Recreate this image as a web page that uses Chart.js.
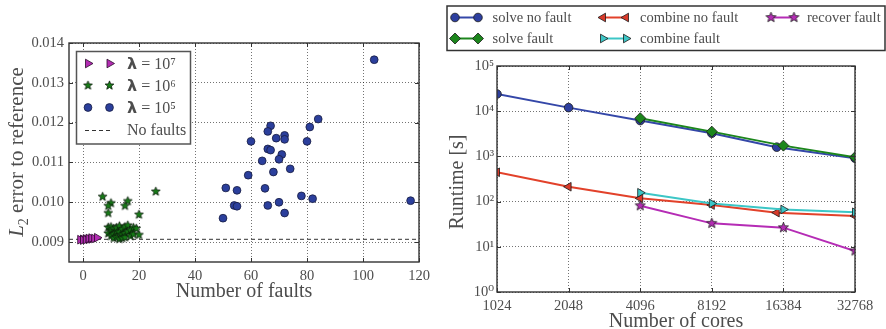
<!DOCTYPE html>
<html>
<head>
<meta charset="utf-8">
<script src="https://cdn.jsdelivr.net/npm/chart.js@4.4.1/dist/chart.umd.min.js"></script>
<style>
  html, body { margin: 0; padding: 0; background: #fff; }
  #wrap { position: relative; width: 886px; height: 329px; overflow: hidden; }
  #c1 { position: absolute; left: 0; top: 0; }
  #c2 { position: absolute; left: 440px; top: 0; }
</style>
</head>
<body>
<div id="wrap">
  <canvas id="c1" width="440" height="329"></canvas>
  <canvas id="c2" width="446" height="329"></canvas>
</div>
<script>
// ---- Left panel: L2 error against number of faults ----
const faultsL7 = [-1, 0, 0, 1, 1, 2, 2, 3, 3, 4, 5];
const errL7 = [0.00906, 0.00907, 0.00905, 0.00908, 0.00906, 0.00907, 0.00909, 0.00908, 0.00910, 0.00909, 0.00911];

const faultsL6 = [7, 10, 9, 9, 16, 15, 20, 26,
  9, 9, 10, 10, 10, 11, 11, 11, 12, 12, 12, 13, 13, 13, 14, 14, 14,
  15, 15, 15, 16, 16, 17, 17, 18, 18, 19, 20];
const errL6 = [0.01014, 0.00998, 0.00991, 0.00973, 0.01003, 0.00991, 0.00969, 0.01027,
  0.00937, 0.00922, 0.00930, 0.00915, 0.00938, 0.00934, 0.00920, 0.00910, 0.00928, 0.00936, 0.00912,
  0.00940, 0.00925, 0.00908, 0.00932, 0.00918, 0.00910, 0.00938, 0.00922, 0.00912, 0.00942, 0.00926,
  0.00930, 0.00915, 0.00936, 0.00920, 0.00934, 0.00918];

const faultsL5 = [104, 84, 81, 67, 66, 72, 69, 72, 60, 80, 66, 67, 71, 70, 64, 74, 68, 59, 51, 65,
  55, 78, 82, 117, 70, 54, 55, 66, 72, 50];
const errL5 = [0.01358, 0.01209, 0.01189, 0.01192, 0.01178, 0.01168, 0.01161, 0.01158, 0.01153, 0.01153,
  0.01134, 0.01131, 0.01120, 0.01108, 0.01104, 0.01084, 0.01076, 0.01068, 0.01036, 0.01035,
  0.01030, 0.01016, 0.01009, 0.01004, 0.01000, 0.00992, 0.00990, 0.00992, 0.00973, 0.00960];

const noFaultErr = 0.00907;
const faultTicks = [0, 20, 40, 60, 80, 100, 120];
const errTicks = [0.009, 0.010, 0.011, 0.012, 0.013, 0.014];

// ---- Right panel: runtime against number of cores ----
const coresNoFault = [1024, 2048, 4096, 8192, 15360, 32768];
const coresFault = [4096, 8192, 16384, 32768];
const solveNoFault = [24000, 12000, 6200, 3250, 1600, 910];
const combineNoFault = [445, 213, 118, 84, 57, 48];
const solveFault = [7000, 3530, 1730, 960];
const combineFault = [157, 91, 67, 58];
const recoverFault = [81, 33, 26.5, 8.1];
const coreTicks = [1024, 2048, 4096, 8192, 16384, 32768];
const runtimeTicks = [1, 10, 100, 1000, 10000, 100000];

const SERIF = "'Liberation Serif', 'DejaVu Serif', serif";
const TEXT = '#4d4d4d';
Chart.defaults.font.family = SERIF;
Chart.defaults.color = TEXT;
Chart.defaults.animation = false;

const pts = (xs, ys) => xs.map((x, i) => ({ x, y: ys[i] }));
const SUP = ['⁰', '¹', '²', '³', '⁴', '⁵', '⁶', '⁷', '⁸', '⁹'];

// filled five-pointed star used as a marker image
function starImage(fill, stroke, R, r, lw) {
  const s = Math.ceil(2 * R + 2 * lw + 2);
  const c = document.createElement('canvas');
  c.width = s; c.height = s;
  const g = c.getContext('2d');
  g.translate(s / 2, s / 2);
  g.beginPath();
  for (let i = 0; i < 10; i++) {
    const a = -Math.PI / 2 + i * Math.PI / 5;
    const rr = i % 2 ? r : R;
    g.lineTo(rr * Math.cos(a), rr * Math.sin(a));
  }
  g.closePath();
  g.fillStyle = fill; g.fill();
  g.lineWidth = lw; g.strokeStyle = stroke; g.stroke();
  return c;
}

function drawMarker(ctx, ds, x, y) {
  ctx.save();
  ctx.fillStyle = ds.pointBackgroundColor;
  ctx.strokeStyle = ds.pointBorderColor;
  ctx.lineWidth = ds.pointBorderWidth;
  Chart.helpers.drawPoint(ctx, {
    pointStyle: ds.pointStyle, radius: ds.pointRadius,
    rotation: ds.pointRotation || 0, borderWidth: ds.pointBorderWidth
  }, x, y);
  ctx.restore();
}

// axes frame with inward tick marks on all four sides
const frameTicks = {
  id: 'frameTicks',
  afterDraw(chart) {
    const { ctx, chartArea: a } = chart;
    const xs = chart.scales.x, ys = chart.scales.y;
    ctx.save();
    ctx.strokeStyle = '#333';
    ctx.lineWidth = 1;
    ctx.beginPath();
    xs.ticks.forEach(t => {
      const p = Math.round(xs.getPixelForValue(t.value)) + 0.5;
      ctx.moveTo(p, a.bottom); ctx.lineTo(p, a.bottom - 4);
      ctx.moveTo(p, a.top); ctx.lineTo(p, a.top + 4);
    });
    ys.ticks.forEach(t => {
      const p = Math.round(ys.getPixelForValue(t.value)) + 0.5;
      ctx.moveTo(a.left, p); ctx.lineTo(a.left + 4, p);
      ctx.moveTo(a.right, p); ctx.lineTo(a.right - 4, p);
    });
    ctx.stroke();
    ctx.lineWidth = 1.4;
    ctx.strokeRect(a.left, a.top, a.right - a.left, a.bottom - a.top);
    ctx.restore();
  }
};

const gridOpts = { color: 'rgba(0,0,0,0.55)', lineWidth: 1, drawTicks: false, borderDash: [1, 2] };
const borderOpts = { display: false, dash: [1, 2] };

// ---------------- Left chart ----------------
const leftTitles = {
  id: 'leftTitles',
  afterDraw(chart) {
    const ctx = chart.ctx;
    ctx.save();
    ctx.fillStyle = TEXT;
    ctx.textBaseline = 'alphabetic';
    ctx.font = '20px ' + SERIF;
    ctx.textAlign = 'center';
    ctx.fillText('Number of faults', (chart.chartArea.left + chart.chartArea.right) / 2, 297);
    // rotated y title with italic L and subscript 2
    const main = 'L', sub = '2', rest = ' error to reference';
    const fMain = 'italic 21px ' + SERIF, fSub = '14px ' + SERIF, fRest = '21px ' + SERIF;
    ctx.font = fMain; const w1 = ctx.measureText(main).width;
    ctx.font = fSub; const w2 = ctx.measureText(sub).width;
    ctx.font = fRest; const w3 = ctx.measureText(rest).width;
    const total = w1 + w2 + w3;
    ctx.translate(23, 152);
    ctx.rotate(-Math.PI / 2);
    ctx.textAlign = 'left';
    let x = -total / 2;
    ctx.font = fMain; ctx.fillText(main, x, 0); x += w1;
    ctx.font = fSub; ctx.fillText(sub, x, 5); x += w2;
    ctx.font = fRest; ctx.fillText(rest, x, 0);
    ctx.restore();
  }
};

const leftLegend = {
  id: 'leftLegend',
  afterDraw(chart) {
    const ctx = chart.ctx;
    const ds = chart.data.datasets;
    ctx.save();
    ctx.fillStyle = '#fff';
    ctx.strokeStyle = '#555';
    ctx.lineWidth = 1.5;
    ctx.fillRect(76.5, 51.5, 114, 92.5);
    ctx.strokeRect(76.5, 51.5, 114, 92.5);
    const rows = [[1, 63.5], [2, 85.5], [3, 107.5], [0, 130]];
    rows.forEach(([i, y]) => {
      const d = ds[i];
      if (d.pointRadius === 0) {
        ctx.save();
        ctx.strokeStyle = d.borderColor; ctx.lineWidth = d.borderWidth;
        ctx.setLineDash(d.borderDash);
        ctx.beginPath(); ctx.moveTo(85, y + 0.5); ctx.lineTo(112, y + 0.5); ctx.stroke();
        ctx.restore();
      } else {
        drawMarker(ctx, d, 88, y);
        drawMarker(ctx, d, 109.5, y);
      }
      ctx.fillStyle = TEXT;
      ctx.textBaseline = 'middle';
      ctx.textAlign = 'left';
      const label = d.label;
      if (label.startsWith('λ')) {
        ctx.font = 'bold 16px "DejaVu Sans", sans-serif';
        ctx.fillText('λ', 127, y + 1);
        const w = ctx.measureText('λ').width;
        ctx.font = '16px ' + SERIF;
        ctx.fillText(label.slice(1), 127 + w, y + 1);
      } else {
        ctx.font = '16px ' + SERIF;
        ctx.fillText(label, 127, y + 1);
      }
    });
    ctx.restore();
  }
};

new Chart(document.getElementById('c1'), {
  type: 'scatter',
  data: {
    datasets: [
      { label: 'No faults', data: [{ x: -5, y: noFaultErr }, { x: 120, y: noFaultErr }],
        showLine: true, borderColor: '#333', borderWidth: 1, borderDash: [4, 3], pointRadius: 0, order: 4 },
      { label: 'λ = 10' + SUP[7], data: pts(faultsL7, errL7), pointStyle: 'triangle', pointRotation: 90,
        pointRadius: 5, pointBackgroundColor: '#b22cb2', pointBorderColor: '#2a0a2a', pointBorderWidth: 0.8, order: 3 },
      { label: 'λ = 10' + SUP[6], data: pts(faultsL6, errL6), pointStyle: starImage('#167a16', '#0a1a0a', 4.6, 2.0, 0.8),
        pointRadius: 4.5, pointBackgroundColor: '#167a16', pointBorderColor: '#0a1a0a', pointBorderWidth: 0.8, order: 2 },
      { label: 'λ = 10' + SUP[5], data: pts(faultsL5, errL5), pointStyle: 'circle',
        pointRadius: 3.9, pointBackgroundColor: '#2b3f9c', pointBorderColor: '#161c40', pointBorderWidth: 0.8, order: 1 }
    ]
  },
  options: {
    responsive: false,
    layout: { padding: { left: 0, right: 21, top: 43, bottom: 0 } },
    plugins: { legend: { display: false }, tooltip: { enabled: false } },
    scales: {
      x: {
        type: 'linear', min: -5, max: 120,
        afterBuildTicks: s => { s.ticks = faultTicks.map(v => ({ value: v })); },
        afterFit: s => { s.height = 67; },
        grid: gridOpts, border: borderOpts,
        ticks: { padding: 5, color: TEXT, font: { size: 14.5 }, maxRotation: 0, callback: v => String(v) }
      },
      y: {
        type: 'linear', min: 0.0085, max: 0.014,
        afterBuildTicks: s => { s.ticks = errTicks.map(v => ({ value: v })); },
        afterFit: s => { s.width = 69; },
        grid: gridOpts, border: borderOpts,
        ticks: { padding: 5, color: TEXT, font: { size: 14.5 }, callback: v => Number(v).toFixed(3) }
      }
    }
  },
  plugins: [frameTicks, leftLegend, leftTitles]
});

// ---------------- Right chart ----------------
const rightTitles = {
  id: 'rightTitles',
  afterDraw(chart) {
    const ctx = chart.ctx;
    ctx.save();
    ctx.fillStyle = TEXT;
    ctx.font = '20px ' + SERIF;
    ctx.textAlign = 'center';
    ctx.textBaseline = 'alphabetic';
    ctx.fillText('Number of cores', (chart.chartArea.left + chart.chartArea.right) / 2, 327);
    ctx.translate(23, 182);
    ctx.rotate(-Math.PI / 2);
    ctx.fillText('Runtime [s]', 0, 0);
    ctx.restore();
  }
};

const rightLegend = {
  id: 'rightLegend',
  afterDraw(chart) {
    const ctx = chart.ctx;
    const ds = chart.data.datasets;
    ctx.save();
    ctx.fillStyle = '#fff';
    ctx.strokeStyle = '#333';
    ctx.lineWidth = 1.5;
    ctx.fillRect(7, 6, 438, 44.5);
    ctx.strokeRect(7, 6, 438, 44.5);
    // [dataset index, sample start x, text x, row y]
    const slots = [[0, 15, 52.5, 17.5], [1, 15, 52.5, 38.5], [2, 163, 200, 17.5], [3, 163, 200, 38.5], [4, 331, 367, 17.5]];
    slots.forEach(([i, sx, tx, y]) => {
      const d = ds[i];
      ctx.save();
      ctx.strokeStyle = d.borderColor; ctx.lineWidth = d.borderWidth;
      ctx.beginPath(); ctx.moveTo(sx, y); ctx.lineTo(sx + 23, y); ctx.stroke();
      ctx.restore();
      drawMarker(ctx, d, sx, y);
      drawMarker(ctx, d, sx + 23, y);
      ctx.fillStyle = TEXT;
      ctx.font = '14.5px ' + SERIF;
      ctx.textAlign = 'left';
      ctx.textBaseline = 'middle';
      ctx.fillText(d.label, tx, y + 1);
    });
    ctx.restore();
  }
};

function series(label, xs, ys, color, mark, order) {
  return Object.assign({
    label, data: pts(xs, ys), borderColor: color, borderWidth: 2, fill: false, tension: 0,
    pointBorderColor: '#1a1a1a', pointBorderWidth: 0.8, order
  }, mark);
}

new Chart(document.getElementById('c2'), {
  type: 'line',
  data: {
    datasets: [
      series('solve no fault', coresNoFault, solveNoFault, '#3447a8',
        { pointStyle: 'circle', pointRadius: 4.3, pointBackgroundColor: '#2d3f9f' }, 5),
      series('solve fault', coresFault, solveFault, '#1c861c',
        { pointStyle: 'rectRot', pointRadius: 5.5, pointBackgroundColor: '#1c861c' }, 4),
      series('combine no fault', coresNoFault, combineNoFault, '#e2412a',
        { pointStyle: 'triangle', pointRotation: -90, pointRadius: 5, pointBackgroundColor: '#d83a2a' }, 3),
      series('combine fault', coresFault, combineFault, '#3cc6c6',
        { pointStyle: 'triangle', pointRotation: 90, pointRadius: 5, pointBackgroundColor: '#3cc6c6' }, 2),
      series('recover fault', coresFault, recoverFault, '#b52cb5',
        { pointStyle: starImage('#b52cb5', '#1a1a1a', 5.3, 2.3, 0.8), pointRadius: 5, pointBackgroundColor: '#b52cb5' }, 1)
    ]
  },
  options: {
    responsive: false,
    layout: { padding: { left: 0, right: 31, top: 66, bottom: 0 } },
    plugins: { legend: { display: false }, tooltip: { enabled: false } },
    scales: {
      x: {
        type: 'logarithmic', min: 1024, max: 32768,
        afterBuildTicks: s => { s.ticks = coreTicks.map(v => ({ value: v })); },
        afterFit: s => { s.height = 37; },
        grid: gridOpts, border: borderOpts,
        ticks: { padding: 5, color: TEXT, font: { size: 14.5 }, maxRotation: 0, autoSkip: false, callback: v => String(v) }
      },
      y: {
        type: 'logarithmic', min: 1, max: 100000,
        afterBuildTicks: s => { s.ticks = runtimeTicks.map(v => ({ value: v })); },
        afterFit: s => { s.width = 57; },
        grid: gridOpts, border: borderOpts,
        ticks: { padding: 3, color: TEXT, font: { size: 14.5 }, autoSkip: false,
          callback: v => '10' + SUP[Math.round(Math.log10(v))] }
      }
    }
  },
  plugins: [frameTicks, rightLegend, rightTitles]
});
</script>
</body>
</html>
